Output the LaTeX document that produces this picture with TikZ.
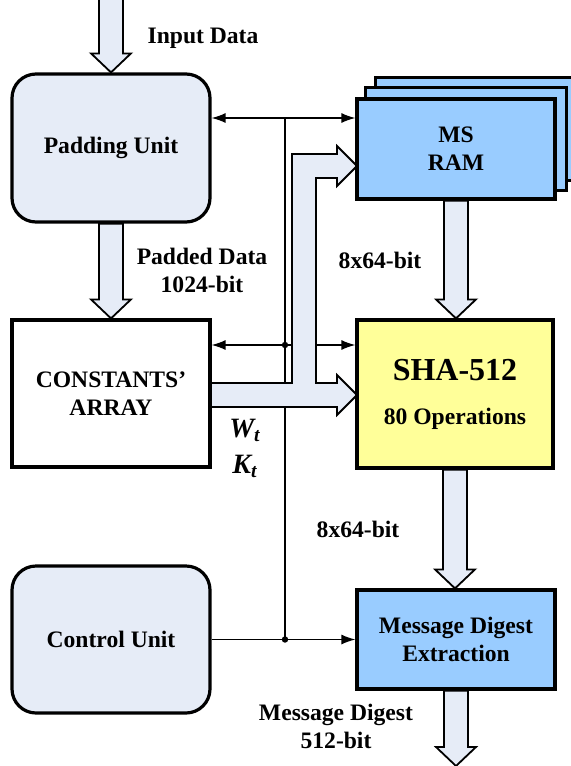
\documentclass[tikz,border=0pt]{standalone}
\usepackage{fontspec}
\setmainfont{Liberation Serif}
\usetikzlibrary{arrows.meta,calc,backgrounds}

\definecolor{unitfill}{RGB}{230,236,247}
\definecolor{ramfill}{RGB}{153,204,255}
\definecolor{shafill}{RGB}{255,255,153}

\newcommand{\lblfont}{\fontsize{11.8}{14}\selectfont\bfseries}

% fat data arrow going straight down from #1 to the tip at #2
\newcommand{\busdown}[2]{%
    \path[bus] let \p1 = (#1), \p2 = (#2) in
        (\x1-6pt,\y1) -- (\x1-6pt,\y2+9.5pt) -- (\x1-10pt,\y2+9.5pt) -- (\x1,\y2)
        -- (\x1+10pt,\y2+9.5pt) -- (\x1+6pt,\y2+9.5pt) -- (\x1+6pt,\y1) -- cycle;}

\tikzset{
    unit/.style={draw, line width=1.6pt, rounded corners=12pt, fill=unitfill,
        minimum width=99pt, minimum height=74pt, inner sep=0pt, align=center, font=\lblfont},
    block/.style={draw, line width=1.6pt, minimum width=99pt, inner sep=0pt,
        align=center, font=\lblfont},
    bus/.style={draw, line width=0.9pt, fill=unitfill},
    ctl/.style={line width=0.7pt},
    sig/.style={ctl, -{Latex[length=7pt,width=5pt]}},
    lbl/.style={align=center, font=\lblfont},
    word/.style={anchor=base, inner sep=0pt, font=\fontsize{14}{16}\selectfont\bfseries\itshape},
}

\begin{document}
\begin{tikzpicture}[x=0.5pt, y=-0.5pt]
    \clip (0,0) rectangle (571,766);

    \node[unit] (pad) at (111,148) {Padding Unit};
    \node[block, minimum height=73.5pt] (const) at (111,393.5) {CONSTANTS'\\ARRAY};
    \node[unit, minimum height=73.5pt] (ctrl) at (111,639.5) {Control Unit};

    \node[block, fill=ramfill, minimum height=50pt] (ram) at (456,149) {MS\\RAM};
    \node[block, fill=shafill, minimum width=98pt, minimum height=74pt] (sha) at (455,394)
        {{\fontsize{16}{20}\selectfont SHA-512}\\[8pt]80 Operations};
    \node[block, fill=ramfill, minimum height=49.5pt] (mde) at (456,639.5) {Message Digest\\Extraction};

    \node[lbl] (indata) at (203,38) {Input Data};
    \node[lbl] (padded) at (202,270) {Padded Data\\1024-bit};
    \node[lbl] (ramw) at (380,260) {8x64-bit};
    \node[lbl] (shaw) at (358,529) {8x64-bit};
    \node[lbl] (digest) at (336,726) {Message Digest\\512-bit};
    \node[word] (wt) at (245,437) {W\textsubscript{t}};
    \node[word] (kt) at (245,473) {K\textsubscript{t}};

    \coordinate (in) at (111,-4);
    \coordinate (out) at (456,766);
    \coordinate (t1) at (285,118);
    \coordinate (t2) at (285,345);
    \coordinate (t3) at (285,639.5);

    \begin{pgfonlayer}{background}
        % control lines
        \draw[ctl] (t1) -- (t3);
        \draw[sig] (t1) -- (t1 -| pad.east);
        \draw[sig] (t1) -- (t1 -| ram.west);
        \draw[sig] (t2) -- (t2 -| const.east);
        \draw[sig] (t2) -- (t2 -| sha.west);
        \draw[sig] (ctrl.east) -- (mde.west);
        \fill (t2) circle (1.6pt);
        \fill (t3) circle (1.6pt);

        % W_t / K_t bus to RAM and SHA core
        \path[bus] (210,383) -- (292,383) -- (292,154) -- (337,154) -- (337,146)
            -- (357,166) -- (337,186) -- (337,178) -- (316,178) -- (316,383)
            -- (337,383) -- (337,375) -- (357,395) -- (337,415) -- (337,407)
            -- (210,407) -- cycle;

        \busdown{in}{pad.north}
        \busdown{pad.south}{const.north}
        \busdown{ram.south}{sha.north}
        \busdown{sha.south}{mde.north}
        \busdown{mde.south}{out}

        % RAM banks behind the front one
        \foreach \d in {20,10}
            \draw[line width=1.6pt, fill=ramfill]
                ($(ram.south west)+(\d,-\d)$) rectangle ($(ram.north east)+(\d,-\d)$);
    \end{pgfonlayer}
\end{tikzpicture}
\end{document}
